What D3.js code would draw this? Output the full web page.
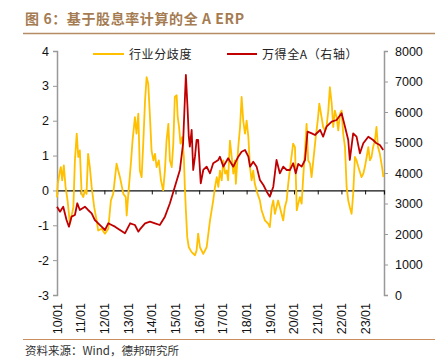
<!DOCTYPE html>
<html><head><meta charset="utf-8">
<script src="https://cdn.jsdelivr.net/npm/d3@7"></script>
<style>
html,body{margin:0;padding:0;background:#fff;}
svg{display:block;font-family:"Liberation Sans",Arial,sans-serif;}
</style></head>
<body><svg id="c" width="441" height="359"></svg>
<script>
// ---- data ----
const titleText = "图 6：基于股息率计算的全 A ERP";
const sourceText = "资料来源：Wind，德邦研究所";
const seriesNames = ["行业分歧度", "万得全A（右轴）"];
const leftTicks = [-3, -2, -1, 0, 1, 2, 3, 4];
const rightTicks = [0, 1000, 2000, 3000, 4000, 5000, 6000, 7000, 8000];
const xTickYears = [2010,2011,2012,2013,2014,2015,2016,2017,2018,2019,2020,2021,2022,2023];
const xStart = "2010-01-01", xEnd = "2023-10-19";

const goldDates = ["2010-01-01","2010-01-13","2010-02-16","2010-03-01","2010-03-22","2010-04-16","2010-05-13","2010-06-13","2010-07-19","2010-09-10","2010-10-04","2010-11-01","2010-11-25","2010-12-19","2011-01-16","2011-02-10","2011-03-07","2011-04-01","2011-04-25","2011-05-22","2011-06-19","2011-07-28","2011-09-04","2011-09-28","2011-11-19","2012-01-10","2012-03-01","2012-04-10","2012-05-16","2012-07-07","2012-08-01","2012-08-28","2012-10-19","2012-11-25","2012-12-10","2013-01-04","2013-02-16","2013-03-10","2013-04-16","2013-05-10","2013-06-07","2013-07-01","2013-07-28","2013-08-22","2013-09-19","2013-10-13","2013-11-07","2013-12-04","2013-12-28","2014-01-25","2014-02-19","2014-03-16","2014-04-19","2014-05-22","2014-06-25","2014-07-22","2014-08-16","2014-09-13","2014-10-07","2014-11-04","2014-11-28","2014-12-22","2015-01-19","2015-02-04","2015-02-25","2015-03-19","2015-04-13","2015-05-10","2015-05-25","2015-06-10","2015-07-01","2015-07-25","2015-09-07","2015-10-28","2015-11-22","2015-12-16","2016-01-13","2016-03-04","2016-04-25","2016-06-16","2016-08-04","2016-09-01","2016-09-28","2016-10-22","2016-11-16","2016-12-13","2017-01-07","2017-02-04","2017-02-28","2017-03-22","2017-04-19","2017-05-16","2017-06-10","2017-07-04","2017-07-19","2017-08-25","2017-09-22","2017-10-16","2017-11-10","2017-12-07","2018-01-01","2018-01-28","2018-02-22","2018-03-19","2018-04-13","2018-05-07","2018-06-19","2018-07-25","2018-08-19","2018-10-10","2018-12-01","2018-12-25","2019-01-22","2019-02-16","2019-03-13","2019-04-07","2019-05-01","2019-05-28","2019-07-19","2019-08-13","2019-09-10","2019-10-04","2019-11-16","2019-12-19","2020-01-16","2020-02-13","2020-03-07","2020-04-01","2020-04-28","2020-05-22","2020-06-19","2020-07-13","2020-08-07","2020-09-04","2020-09-28","2020-10-25","2020-12-01","2021-01-01","2021-01-25","2021-03-01","2021-03-25","2021-04-22","2021-05-16","2021-06-13","2021-07-07","2021-08-04","2021-08-28","2021-09-22","2021-10-19","2021-11-13","2021-12-10","2022-01-04","2022-01-28","2022-02-25","2022-03-22","2022-04-16","2022-05-10","2022-06-07","2022-07-01","2022-07-28","2022-08-22","2022-09-19","2022-11-07","2022-12-04","2022-12-28","2023-01-25","2023-02-19","2023-03-16","2023-04-10","2023-05-04","2023-06-01","2023-06-25","2023-07-19","2023-08-16","2023-09-19","2023-10-10"];
const goldValues = [-0.2,0.19,0.57,0.67,0.29,0.72,0.1,-0.29,-0.96,-0.48,0.86,1.63,0.96,1.15,-0.1,-0.19,0,-0.1,1.05,0.67,0.1,-0.48,-0.86,-1.15,-1.1,-1.24,-1.1,-0.29,-0.1,0.77,0.57,0.38,-0.1,-0.19,-0.72,-0.1,0.86,1.43,2.1,1.63,2.2,0.57,0.38,1.34,2.58,3.25,3.06,2.1,1.15,0.86,1.05,0.67,0.86,0.29,0,0.57,1.43,1.91,0.86,0.67,1.34,2.68,2.73,2.1,1.82,1.34,1.53,0.96,0.1,-0.57,-1.34,-1.63,-1.77,-1.86,-1.72,-1.24,-1.63,-1.82,-1.63,-0.86,-0.29,0.1,0.38,0.1,0.57,0.29,0.86,0.48,0.57,0.29,1.43,0.96,0.48,0.86,0.19,1.24,1.82,2.68,2.0,1.63,2.0,1.53,0.67,0.29,0.57,0.19,-0.1,-0.29,-0.57,-0.86,-0.96,-1.05,-0.48,-0.29,-0.67,-0.48,-0.29,-0.48,-0.86,-0.48,-0.29,0.19,0.86,1.34,1.24,-0.57,-0.38,-0.19,-0.38,0.38,1.15,1.91,0.86,0.77,0.38,0.86,1.53,2.0,2.49,2.1,1.82,1.72,1.82,2.29,2.96,2.49,1.82,2.29,2.1,1.72,2.2,2.29,1.63,1.24,0.1,-0.29,-0.48,-0.67,-0.1,0.96,0.86,0.67,0.38,0.48,0.67,0.96,1.24,0.86,0.96,1.24,1.43,1.82,1.24,1.05,0.67,0.38];

const redDates = ["2010-01-01","2010-02-16","2010-04-07","2010-05-28","2010-07-04","2010-08-13","2010-10-04","2010-11-10","2010-12-19","2011-03-07","2011-04-25","2011-06-19","2011-08-07","2011-09-28","2011-11-19","2012-01-10","2012-03-01","2012-04-22","2012-06-13","2012-08-28","2012-11-13","2013-02-01","2013-04-16","2013-06-07","2013-07-01","2013-09-19","2013-12-04","2014-02-19","2014-05-04","2014-07-22","2014-10-07","2014-12-22","2015-03-10","2015-04-28","2015-05-25","2015-06-10","2015-07-07","2015-07-25","2015-08-10","2015-09-07","2015-10-01","2015-10-28","2015-11-22","2015-12-16","2016-01-25","2016-03-04","2016-04-25","2016-06-16","2016-08-04","2016-10-22","2016-11-16","2017-01-07","2017-03-22","2017-06-10","2017-08-25","2017-10-16","2017-12-07","2018-01-28","2018-02-22","2018-04-13","2018-06-04","2018-07-25","2018-09-16","2018-11-07","2018-12-25","2019-02-16","2019-04-07","2019-05-28","2019-07-19","2019-09-10","2019-11-01","2019-12-19","2020-01-28","2020-03-07","2020-04-28","2020-06-19","2020-07-28","2020-10-01","2020-11-19","2021-02-07","2021-03-25","2021-05-16","2021-08-04","2021-10-19","2022-01-04","2022-02-25","2022-04-16","2022-05-10","2022-07-01","2022-08-22","2022-10-13","2022-12-04","2023-02-19","2023-05-04","2023-06-25","2023-08-16","2023-10-07"];
const redValues = [2896,2732,2896,2459,2240,2568,2623,3007,2787,2896,2787,2679,2459,2351,2240,2131,2351,2295,2240,2131,2023,2351,2295,2076,2150,2351,2404,2351,2295,2568,3007,3551,4099,4974,6394,7214,6066,5191,4863,5410,4099,4535,5082,5082,3663,4099,4208,3990,4318,4427,4535,4208,4482,4208,4535,4699,4754,4535,4208,4371,4208,3771,3607,3388,3224,3551,4427,3990,4208,4099,4099,4318,3990,4300,4208,4427,5355,5300,5246,5410,5191,5519,5683,5738,5957,5519,5082,4427,5300,5191,4645,4974,5191,5082,4974,4918,4754];

// ---- chart ----
const svg = d3.select("#c");
const parse = d3.timeParse("%Y-%m-%d");
const L = 57, R = 384, T = 51, B = 295;
const x = d3.scaleTime().domain([parse(xStart), parse(xEnd)]).range([L, R]);
const yL = d3.scaleLinear().domain([-3, 4]).range([B, T]);
const yR = d3.scaleLinear().domain([0, 8000]).range([B, T]);

// title
svg.append("text").attr("x", 25).attr("y", 24).text(titleText)
  .attr("font-family", "'Noto Sans CJK SC', sans-serif").attr("font-weight", "bold")
  .attr("font-size", 14).attr("letter-spacing", 0.6).attr("fill", "#A57C52");
svg.append("line").attr("x1", 23).attr("x2", 435).attr("y1", 33.5).attr("y2", 33.5)
  .attr("stroke", "#B48C66").attr("stroke-width", 1.6);

// left axis
const axL = svg.append("g").attr("transform", `translate(${L},0)`)
  .call(d3.axisLeft(yL).tickValues(leftTicks).tickSize(4).tickFormat(d => String(d)));
axL.select(".domain").attr("stroke", "#999").attr("stroke-width", 1.5);
axL.selectAll(".tick line").attr("stroke", "#999");
axL.selectAll(".tick text").attr("font-size", 12.5).attr("fill", "#111").attr("x", -8)
  .attr("font-family", "'Liberation Sans', Arial, sans-serif");

// right axis
const axR = svg.append("g").attr("transform", `translate(${R},0)`)
  .call(d3.axisRight(yR).tickValues(rightTicks).tickSize(4).tickFormat(d => String(d)));
axR.select(".domain").attr("stroke", "#999").attr("stroke-width", 1.5);
axR.selectAll(".tick line").attr("stroke", "#999");
axR.selectAll(".tick text").attr("font-size", 12.5).attr("fill", "#111").attr("x", 11)
  .attr("font-family", "'Liberation Sans', Arial, sans-serif");

// zero line with year ticks
const y0 = yL(0);
const axX = svg.append("g").attr("transform", `translate(0,${y0})`)
  .call(d3.axisBottom(x).tickValues(xTickYears.map(y => new Date(y, 0, 1))).tickSize(4).tickFormat(""));
axX.select(".domain").attr("stroke", "#111").attr("stroke-width", 1.2);
axX.selectAll(".tick line").attr("stroke", "#111");

// x labels (rotated) at bottom
const fmtX = d3.timeFormat("%y/%m");
svg.append("g").selectAll("text").data(xTickYears).join("text")
  .attr("transform", d => `translate(${x(new Date(d, 0, 1))},303) rotate(-90)`)
  .attr("text-anchor", "end").attr("dy", "0.36em")
  .attr("font-size", 12.5).attr("fill", "#111")
  .text(d => fmtX(new Date(d, 0, 1)));

// lines
const gold = goldDates.map((d, i) => [parse(d), goldValues[i]]);
const red = redDates.map((d, i) => [parse(d), redValues[i]]);
svg.append("path").datum(gold)
  .attr("d", d3.line().x(d => x(d[0])).y(d => yL(d[1])))
  .attr("fill", "none").attr("stroke", "#FFC000").attr("stroke-width", 1.8).attr("stroke-linejoin", "round");
svg.append("path").datum(red)
  .attr("d", d3.line().x(d => x(d[0])).y(d => yR(d[1])))
  .attr("fill", "none").attr("stroke", "#C00000").attr("stroke-width", 1.8).attr("stroke-linejoin", "round");

// legend
const lg = [{x1: 93, x2: 124, tx: 129, c: "#FFC000", t: seriesNames[0]},
            {x1: 227, x2: 257, tx: 262, c: "#C00000", t: seriesNames[1]}];
lg.forEach(o => {
  svg.append("line").attr("x1", o.x1).attr("x2", o.x2).attr("y1", 54).attr("y2", 54)
    .attr("stroke", o.c).attr("stroke-width", 2);
  svg.append("text").attr("x", o.tx).attr("y", 58.5).text(o.t)
    .attr("font-family", "'Noto Sans CJK SC', sans-serif").attr("font-size", 12)
    .attr("letter-spacing", 0.6).attr("fill", "#222");
});

// footer
svg.append("line").attr("x1", 23).attr("x2", 435).attr("y1", 339.5).attr("y2", 339.5)
  .attr("stroke", "#C98E60").attr("stroke-width", 1);
svg.append("text").attr("x", 25).attr("y", 355).text(sourceText)
  .attr("font-family", "'Noto Sans CJK SC', sans-serif").attr("font-size", 11.5).attr("fill", "#333");
</script></body></html>
